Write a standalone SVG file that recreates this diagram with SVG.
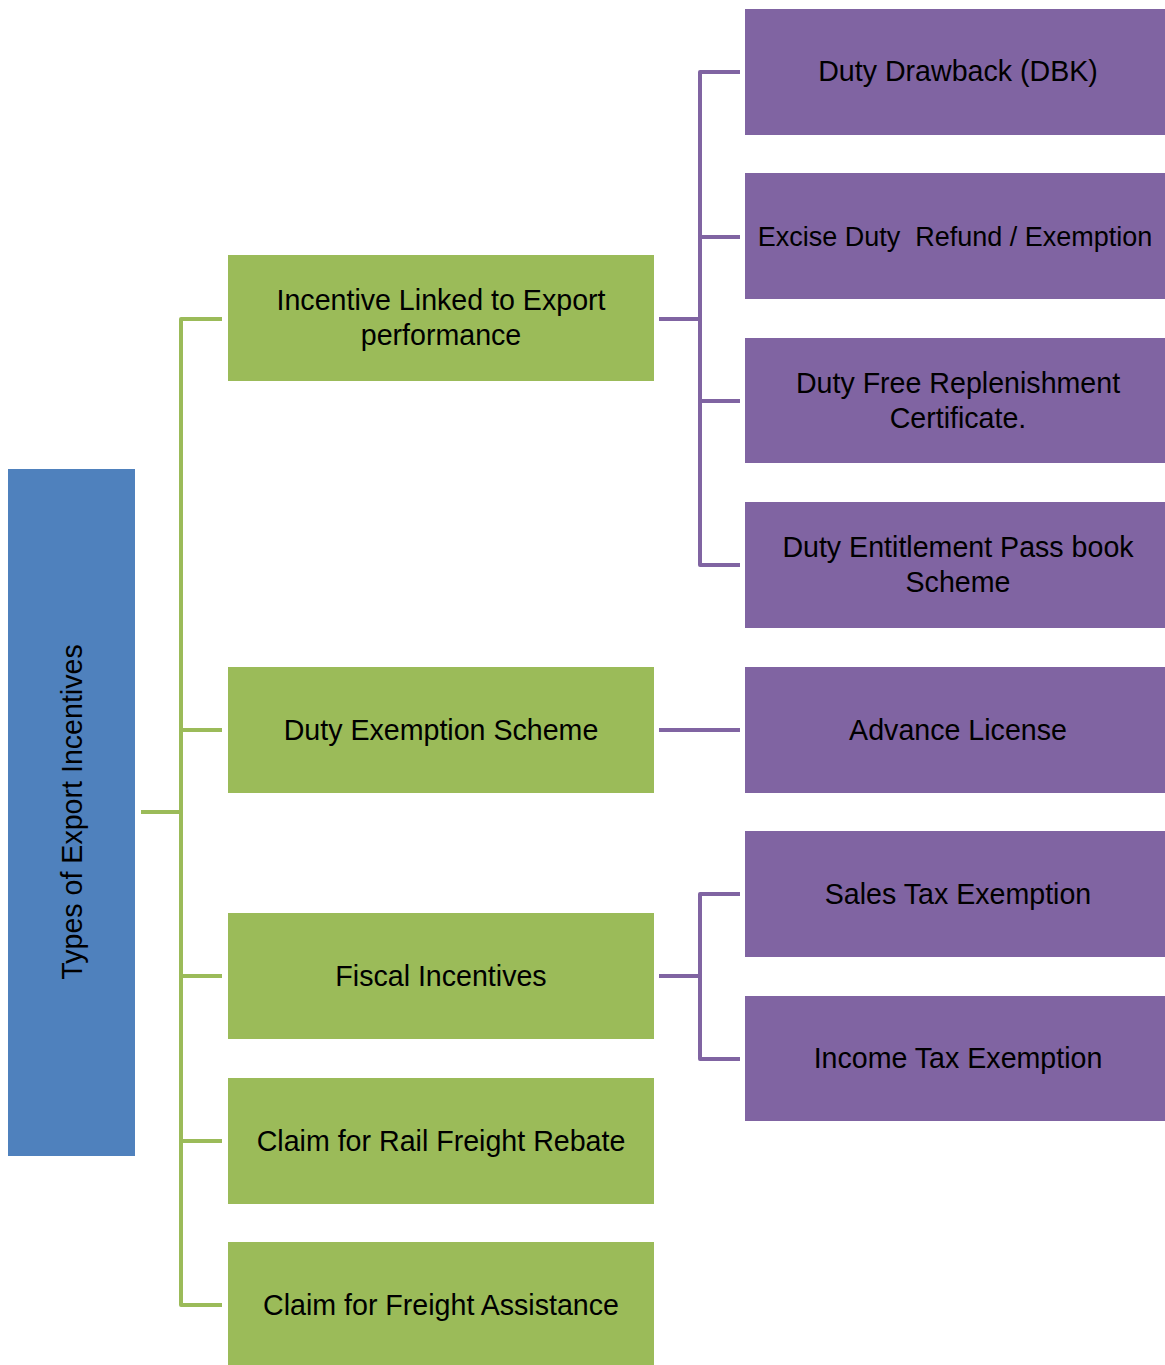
<svg xmlns="http://www.w3.org/2000/svg" width="1165" height="1365" viewBox="0 0 1165 1365">
<style>
.root{fill:#4F81BD}
.g{fill:#9BBB59}
.p{fill:#8064A2}
.t{font-family:"Liberation Sans",Arial,sans-serif;font-size:28.6px;fill:#000;text-anchor:middle}
.gl{fill:none;stroke:#9BBB59;stroke-width:4;stroke-linejoin:round}
.pl{fill:none;stroke:#8064A2;stroke-width:4;stroke-linejoin:round}
</style>
<rect width="1165" height="1365" fill="#fff"/>
<g id="connectors">
<path class="gl" d="M141,812 H181"/>
<path class="gl" d="M222,319 H181 V1305 H222"/>
<path class="gl" d="M181,730 H222 M181,976 H222 M181,1141 H222"/>
<path class="pl" d="M659,319 H700"/>
<path class="pl" d="M740,72 H700 V565 H740"/>
<path class="pl" d="M700,237 H740 M700,401 H740"/>
<path class="pl" d="M659,730 H740"/>
<path class="pl" d="M659,976 H700"/>
<path class="pl" d="M740,894 H700 V1059 H740"/>
</g>
<g id="root">
<rect class="root" x="8" y="469" width="127" height="687"/>
<text class="t" transform="translate(82,812) rotate(-90)">Types of Export Incentives</text>
</g>
<g id="n-incentive">
<rect class="g" x="228" y="255" width="426" height="126"/>
<text class="t" x="441" y="310">Incentive Linked to Export</text>
<text class="t" x="441" y="345">performance</text>
</g>
<g id="n-dutyexempt">
<rect class="g" x="228" y="667" width="426" height="126"/>
<text class="t" x="441" y="740">Duty Exemption Scheme</text>
</g>
<g id="n-fiscal">
<rect class="g" x="228" y="913" width="426" height="126"/>
<text class="t" x="441" y="986">Fiscal Incentives</text>
</g>
<g id="n-rail">
<rect class="g" x="228" y="1078" width="426" height="126"/>
<text class="t" x="441" y="1151">Claim for Rail Freight Rebate</text>
</g>
<g id="n-freight">
<rect class="g" x="228" y="1242" width="426" height="126"/>
<text class="t" x="441" y="1315">Claim for Freight Assistance</text>
</g>
<g id="n-dbk">
<rect class="p" x="745" y="9" width="420" height="126"/>
<text class="t" x="958" y="81">Duty Drawback (DBK)</text>
</g>
<g id="n-excise">
<rect class="p" x="745" y="173" width="420" height="126"/>
<text class="t" x="955" y="246" style="font-size:27px" xml:space="preserve">Excise Duty  Refund / Exemption</text>
</g>
<g id="n-dfrc">
<rect class="p" x="745" y="338" width="420" height="125"/>
<text class="t" x="958" y="393">Duty Free Replenishment</text>
<text class="t" x="958" y="428">Certificate.</text>
</g>
<g id="n-depb">
<rect class="p" x="745" y="502" width="420" height="126"/>
<text class="t" x="958" y="557">Duty Entitlement Pass book</text>
<text class="t" x="958" y="592">Scheme</text>
</g>
<g id="n-advance">
<rect class="p" x="745" y="667" width="420" height="126"/>
<text class="t" x="958" y="740">Advance License</text>
</g>
<g id="n-sales">
<rect class="p" x="745" y="831" width="420" height="126"/>
<text class="t" x="958" y="904">Sales Tax Exemption</text>
</g>
<g id="n-income">
<rect class="p" x="745" y="996" width="420" height="125"/>
<text class="t" x="958" y="1068">Income Tax Exemption</text>
</g>
</svg>
